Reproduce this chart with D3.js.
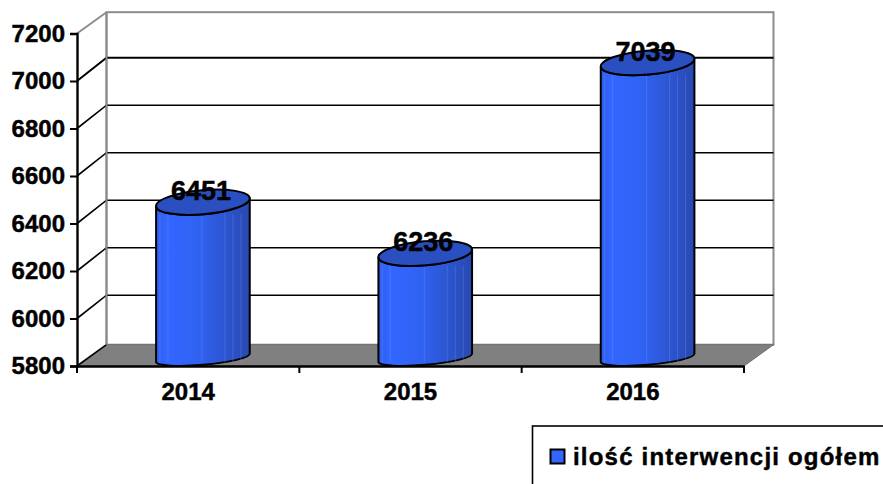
<!doctype html>
<html lang="pl">
<head>
<meta charset="UTF-8">
<title>ilość interwencji ogółem</title>
<script src="https://d3js.org/d3.v7.min.js"></script>
<style>
    html, body { margin: 0; padding: 0; background: #fff; overflow: hidden; }
    text { font-family: "Liberation Sans", Arial, sans-serif; font-weight: bold; fill: #000; stroke: #000; stroke-width: 0.45px; }
</style>
</head>
<body>
<div id="chart"></div>
<script>
    var years = ["2014", "2015", "2016"];
    var interventions = [6451, 6236, 7039];
    var yTicks = [5800, 6000, 6200, 6400, 6600, 6800, 7000, 7200];
    var seriesName = "ilość interwencji ogółem";

    var width = 883, height = 484;
    // front plane of the 3d box and how far the back wall is pushed
    var plotLeft = 77, plotRight = 744, plotTop = 33.5, plotBottom = 366;
    var depthX = 29.5, depthY = -21.3, gridDepthY = -23.3;

    var svg = d3.select("#chart").append("svg")
        .attr("width", width)
        .attr("height", height)
        .style("display", "block");

    var x = d3.scaleBand().domain(years).range([plotLeft, plotRight]).padding(0);
    var y = d3.scaleLinear().domain([5800, 7200]).range([plotBottom, plotTop]);

    var defs = svg.append("defs");
    var grad = defs.append("linearGradient").attr("id", "barFill");
    grad.append("stop").attr("offset", "0%").attr("stop-color", "#2f5fee");
    grad.append("stop").attr("offset", "12%").attr("stop-color", "#3366ff");
    grad.append("stop").attr("offset", "45%").attr("stop-color", "#3062f2");
    grad.append("stop").attr("offset", "100%").attr("stop-color", "#2849b0");

    // back wall
    svg.append("rect")
        .attr("x", plotLeft + depthX)
        .attr("y", plotTop + depthY)
        .attr("width", plotRight - plotLeft)
        .attr("height", plotBottom - plotTop)
        .attr("fill", "#fff")
        .attr("stroke", "#8c8c8c")
        .attr("stroke-width", 2);

    // floor
    svg.append("path")
        .attr("d", d3.line()([
            [plotLeft, plotBottom], [plotLeft + depthX, plotBottom + depthY],
            [plotRight + depthX, plotBottom + depthY], [plotRight, plotBottom]
        ]) + "Z")
        .attr("fill", "#808080")
        .attr("stroke", "#6e6e6e")
        .attr("stroke-width", 1);

    // grid lines: side wall diagonal + back wall line
    svg.append("g").selectAll("path")
        .data(yTicks)
        .enter()
        .append("path")
        .attr("fill", "none")
        .attr("stroke", function (d) { return d === 7200 ? "#8c8c8c" : "#000"; })
        .attr("stroke-width", function (d) { return d === 7200 ? 2 : (d === 7000 ? 2 : 1.6); })
        .attr("d", function (d) {
            var edge = (d === 7200 || d === 5800);
            var backY = y(d) + (edge ? depthY : gridDepthY);
            var p = d3.path();
            p.moveTo(plotLeft, y(d));
            p.lineTo(plotLeft + depthX, backY);
            if (!edge) p.lineTo(plotRight + depthX, backY);
            return p.toString();
        });

    // left edge of the back wall sits on top of the grid ends
    svg.append("line")
        .attr("x1", plotLeft + depthX).attr("x2", plotLeft + depthX)
        .attr("y1", plotTop + depthY).attr("y2", plotBottom + depthY)
        .attr("stroke", "#8c8c8c").attr("stroke-width", 2);

    // cylinders
    var rx = 47, ryTop = 12, ryBottom = 7, tilt = -5;
    var barX = function (d) { return x(d) + x.bandwidth() / 2 + depthX / 2; };
    var barY = function (v) { return y(v) + depthY / 2 + 1.5; };

    function cylinderBody(cx, yTop, yBottom) {
        var a = tilt * Math.PI / 180;
        var dx = rx * Math.cos(a), dy = rx * Math.sin(a);
        var p = "M" + (cx - dx) + "," + (yTop - dy);
        p += "L" + (cx - dx) + "," + (yBottom - dy);
        p += "A" + rx + "," + ryBottom + " " + tilt + " 0 0 " + (cx + dx) + "," + (yBottom + dy);
        p += "L" + (cx + dx) + "," + (yTop + dy);
        p += "A" + rx + "," + ryTop + " " + tilt + " 0 1 " + (cx - dx) + "," + (yTop - dy) + "Z";
        return p;
    }

    var bars = svg.append("g").selectAll("g")
        .data(years)
        .enter()
        .append("g");

    bars.append("path")
        .attr("d", function (d, i) {
            return cylinderBody(barX(d), barY(interventions[i]), barY(5800) + 1);
        })
        .attr("fill", "url(#barFill)")
        .attr("stroke", "#000")
        .attr("stroke-width", 2)
        .attr("stroke-linejoin", "round");

    // faint facet lines on the cylinder
    var facets = [-43, -35, -1, 22, 30, 38];
    bars.each(function (d, i) {
        d3.select(this).selectAll("line")
            .data(facets)
            .enter()
            .append("line")
            .attr("x1", function (f) { return barX(d) + f; })
            .attr("x2", function (f) { return barX(d) + f; })
            .attr("y1", barY(interventions[i]) + 12)
            .attr("y2", barY(5800) + 6)
            .attr("stroke", "#7f9dff")
            .attr("stroke-opacity", 0.28)
            .attr("stroke-width", 1);
    });

    bars.append("ellipse")
        .attr("cx", 0)
        .attr("cy", 0)
        .attr("rx", rx)
        .attr("ry", ryTop)
        .attr("transform", function (d, i) {
            return "translate(" + barX(d) + "," + barY(interventions[i]) + ") rotate(" + tilt + ")";
        })
        .attr("fill", "#2a4fc0")
        .attr("stroke", "#000")
        .attr("stroke-width", 2);

    // value labels
    svg.append("g").selectAll("text")
        .data(years)
        .enter()
        .append("text")
        .attr("x", function (d) { return barX(d) - 2; })
        .attr("y", function (d, i) { return barY(interventions[i]) - 2; })
        .attr("text-anchor", "middle")
        .style("font-size", "27px")
        .text(function (d, i) { return interventions[i]; });

    // y axis
    var yAxis = svg.append("g")
        .attr("transform", "translate(" + plotLeft + ",0)")
        .call(d3.axisLeft(y).tickValues(yTicks).tickSize(7).tickPadding(5).tickFormat(d3.format("d")));
    yAxis.select(".domain").attr("stroke", "#000").attr("stroke-width", 2.4);
    yAxis.selectAll(".tick line").attr("stroke", "#000").attr("stroke-width", 2);
    yAxis.selectAll(".tick text").style("font-size", "24px").attr("fill", "#000");

    // x axis, ticks sit between the categories
    var xAxis = svg.append("g")
        .attr("transform", "translate(0," + plotBottom + ")")
        .call(d3.axisBottom(x).tickSize(0).tickPadding(17));
    xAxis.select(".domain").attr("stroke", "#000").attr("stroke-width", 2.4);
    xAxis.selectAll(".tick text").style("font-size", "24px").attr("fill", "#000");
    xAxis.selectAll(".edge")
        .data(years.map(function (d) { return x(d); }).concat([plotRight]))
        .enter()
        .append("line")
        .attr("class", "edge")
        .attr("x1", function (d) { return d; })
        .attr("x2", function (d) { return d; })
        .attr("y1", 0)
        .attr("y2", 7)
        .attr("stroke", "#000")
        .attr("stroke-width", 2);

    // legend, runs off the right and bottom of the picture like the original
    var legend = svg.append("g");
    legend.append("rect")
        .attr("x", 532.5).attr("y", 426)
        .attr("width", 400).attr("height", 100)
        .attr("fill", "#fff")
        .attr("stroke", "#000")
        .attr("stroke-width", 1.6);
    legend.append("rect")
        .attr("x", 550.5).attr("y", 449.5)
        .attr("width", 14).attr("height", 14)
        .attr("fill", "#3366ff")
        .attr("stroke", "#000")
        .attr("stroke-width", 2);
    legend.append("text")
        .attr("x", 573).attr("y", 465)
        .style("font-size", "24px")
        .style("letter-spacing", "1.2px")
        .text(seriesName);
</script>
</body>
</html>
